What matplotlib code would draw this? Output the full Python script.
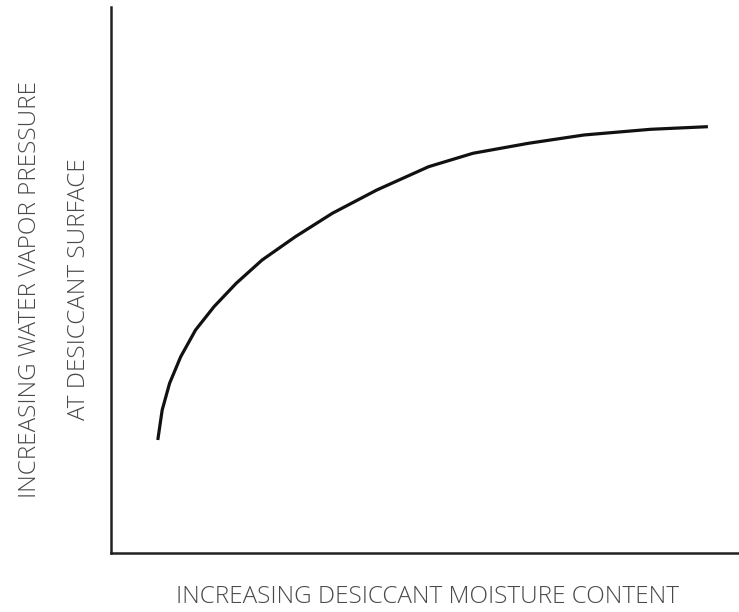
import matplotlib
matplotlib.use("Agg")
import matplotlib.pyplot as plt

# Data (relative units)
moisture = [7.45, 8.15, 9.33, 11.10, 13.46, 16.40, 19.94, 24.06, 29.36, 35.25,
            42.32, 50.57, 57.64, 66.48, 75.32, 85.91, 95.05]
pressure = [20.70, 26.19, 31.08, 35.95, 40.84, 45.11, 49.40, 53.66, 57.93, 62.22,
            66.48, 70.75, 73.21, 75.04, 76.56, 77.60, 78.08]

xlabel = "INCREASING DESICCANT MOISTURE CONTENT"
ylabel1 = "INCREASING WATER VAPOR PRESSURE"
ylabel2 = "AT DESICCANT SURFACE"

fig = plt.figure(figsize=(7.39, 6.12), dpi=100)
ax = fig.add_axes([111/739, 59/612, 628/739, 546/612])
ax.plot(moisture, pressure, color="#111111", lw=2.3, solid_capstyle="butt",
        solid_joinstyle="round")
ax.set_xlim(0, 100)
ax.set_ylim(0, 100)
for s in ["top", "right"]:
    ax.spines[s].set_visible(False)
for s in ["left", "bottom"]:
    ax.spines[s].set_linewidth(1.8)
    ax.spines[s].set_color("#222222")
ax.set_xticks([])
ax.set_yticks([])

tc = "#4a4a4a"
font = dict(family=["Open Sans", "DejaVu Sans"], fontweight="light", color=tc, fontsize=17.5)
fig.text(428/739, 1 - 597/612, xlabel, ha="center", va="center", **font)
fig.text(30/739, 1 - 290/612, ylabel1, ha="center", va="center", rotation=90, **font)
fig.text(79/739, 1 - 289/612, ylabel2, ha="center", va="center", rotation=90, **font)

fig.savefig("out.png", dpi=100, facecolor="white")
